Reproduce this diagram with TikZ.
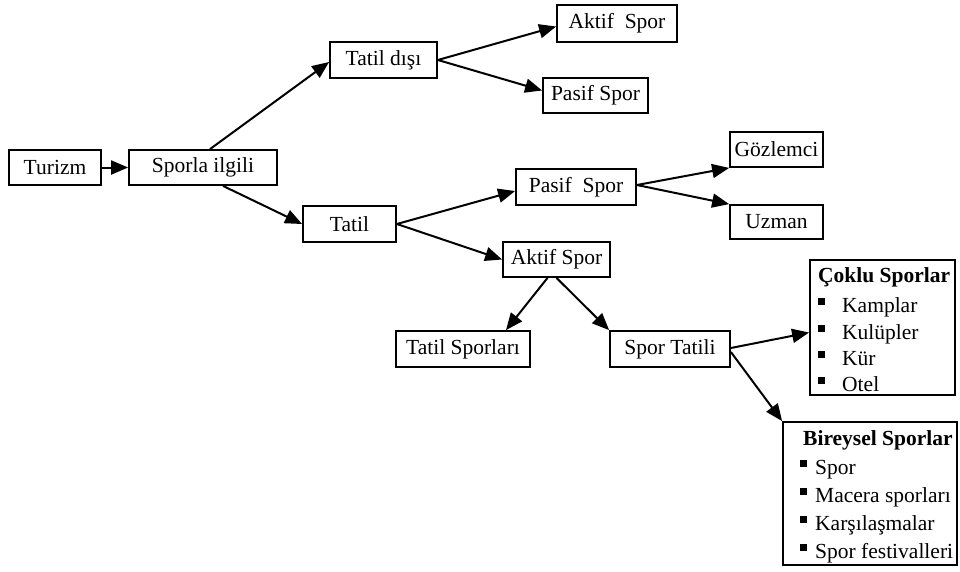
\documentclass[tikz,border=0pt]{standalone}
\usepackage{fontspec}
\setmainfont{Liberation Serif}
\usetikzlibrary{arrows.meta,calc}
\begin{document}
\begin{tikzpicture}[x=1pt,y=-1pt,
  box/.style={draw,line width=1.8pt,inner sep=0pt,font=\fontsize{21.5}{25}\selectfont},
  arr/.style={line width=2pt,-{Triangle[length=17pt,width=14pt]}},
  item/.style={anchor=base west,inner sep=0pt,font=\fontsize{21.5}{25}\selectfont}]
\useasboundingbox (0,0) rectangle (960,571);
% boxes
\node[box,minimum width=92pt,minimum height=35pt] (turizm) at (55,167.5) {Turizm};
\node[box,minimum width=148pt,minimum height=35pt] (sporla) at (203,167.5) {Sporla ilgili};
\node[box,minimum width=107pt,minimum height=36pt] (tatildisi) at (383.5,60) {Tatil dışı};
\node[box,minimum width=120pt,minimum height=37pt] (aktiftop) at (617,23.5) {Aktif~ Spor};
\node[box,minimum width=105pt,minimum height=35pt] (pasiftop) at (595.5,95.5) {Pasif Spor};
\node[box,minimum width=93pt,minimum height=36pt] (tatil) at (349.5,224) {Tatil};
\node[box,minimum width=120pt,minimum height=36pt] (pasifmid) at (576,187) {Pasif~ Spor};
\node[box,minimum width=93pt,minimum height=35pt] (gozlemci) at (776.5,149.5) {Gözlemci};
\node[box,minimum width=93pt,minimum height=34pt] (uzman) at (776.5,222) {Uzman};
\node[box,minimum width=107pt,minimum height=35pt] (aktifmid) at (556.5,259.5) {Aktif Spor};
\node[box,minimum width=134pt,minimum height=36pt] (tatilsp) at (463,349) {Tatil Sporları};
\node[box,minimum width=120pt,minimum height=36pt] (sportatili) at (670,349) {Spor Tatili};
\node[box,minimum width=145pt,minimum height=135pt] (coklu) at (882.5,327.5) {};
\node[box,minimum width=174pt,minimum height=143pt] (bireysel) at (870,493.5) {};
% list contents
\node[item] (ct) at (818,282) {\textbf{Çoklu Sporlar}};
\node[item] (c1) at (842,312) {Kamplar};
\node[item] (c2) at (842,339) {Kulüpler};
\node[item] (c3) at (842,365) {Kür};
\node[item] (c4) at (842,391) {Otel};
\foreach \b in {312,339,365,391} \fill (818,\b-14) rectangle (825,\b-7);
\node[item] (bt) at (803,445) {\textbf{Bireysel Sporlar}};
\node[item] (b1) at (815,474) {Spor};
\node[item] (b2) at (815,502) {Macera sporları};
\node[item] (b3) at (815,530) {Karşılaşmalar};
\node[item] (b4) at (815,558) {Spor festivalleri};
\foreach \b in {474,502,530,558} \fill (800,\b-14) rectangle (807,\b-7);
% arrows
\draw[arr] (turizm) -- (sporla);
\draw[arr] ([xshift=7pt]sporla.north) -- ([yshift=-2pt]tatildisi.west);
\draw[arr] ([xshift=20pt]sporla.south) -- (tatil.west);
\draw[arr] (tatildisi.east) -- ([yshift=-3pt]aktiftop.west);
\draw[arr] (tatildisi.east) -- ([yshift=5pt]pasiftop.west);
\draw[arr] (tatil.east) -- ([yshift=-4pt]pasifmid.west);
\draw[arr] (tatil.east) -- (aktifmid.west);
\draw[arr] ([yshift=2pt]pasifmid.east) -- (gozlemci.south west);
\draw[arr] ([yshift=2pt]pasifmid.east) -- (uzman.north west);
\draw[arr] ([xshift=-9pt]aktifmid.south) -- ([xshift=43pt]tatilsp.north);
\draw[arr] (aktifmid.south) -- (sportatili.north west);
\draw[arr] ([yshift=1pt]sportatili.east) -- ([yshift=-5pt]coklu.west);
\draw[arr] ([yshift=-3pt]sportatili.east) -- (bireysel.north west);
\end{tikzpicture}
\end{document}
